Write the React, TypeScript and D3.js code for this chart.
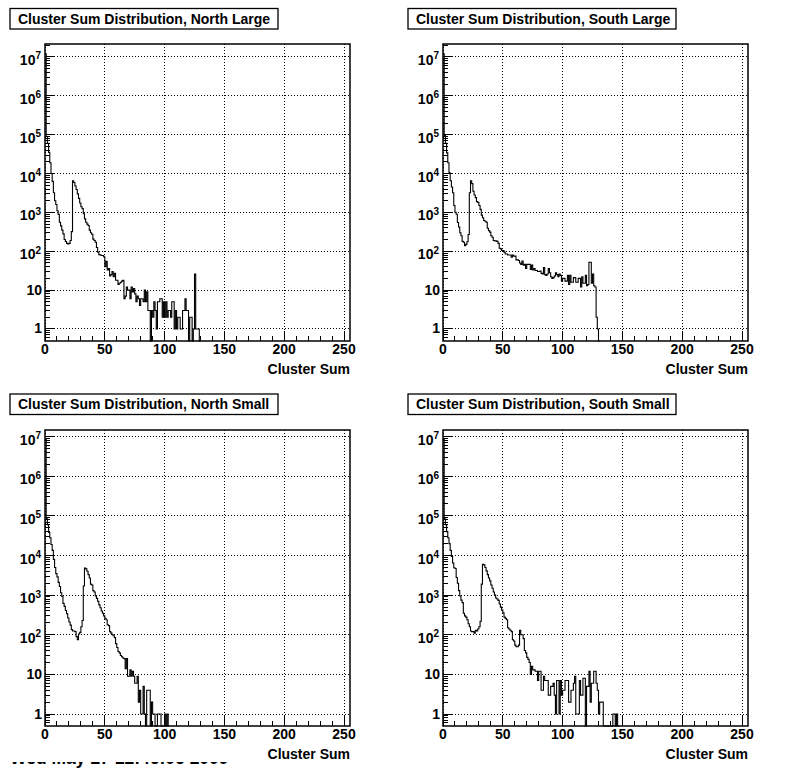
import * as d3 from "d3";

const northLarge = [12000000,90000,60000,35000,19000,10000,6300,3200,2000,1600,1100,890,560,450,350,280,200,178,160,155,160,190,320,6500,5900,4800,3900,3000,2300,1750,1400,1250,920,680,560,500,460,350,300,275,205,190,170,125,95,82,80,78,78,72,40,55,33,36,23,25,30,22,27,18,18,14,15,16,17,18,6,7,12,10,10,6,12,9,11,8,5,7,6,4,6,6,5,10,5,9,3,3,0,3,2,5,3,1,5,5,6,6,2,5,2,5,2,3,3,2,5,5,1,3,1,2,2,1,1,3,3,6,3,3,0,2,2,0,1,26,1,1,1,0];
const southLarge = [12000000,95000,60000,34000,19000,10500,6500,4500,3200,1500,1000,900,550,420,300,250,180,170,140,150,175,270,3200,6500,5500,3500,2800,2400,1900,1800,1500,1200,850,730,620,590,560,390,340,310,250,230,190,185,185,180,160,120,115,105,105,95,85,85,80,80,80,70,80,75,75,60,60,58,50,46,56,44,46,36,46,46,46,34,44,33,36,32,32,30,30,31,27,26,38,25,24,26,36,28,22,20,21,23,28,25,22,26,24,17,20,20,17,17,24,14,24,16,16,21,21,16,16,20,20,12,22,15,15,24,13,14,52,52,15,26,13,12,2,1,0];
const northSmall = [9000000,85000,60000,38000,28000,19000,13500,8000,5000,3500,2900,2100,1650,1150,930,620,520,410,340,265,210,175,135,125,125,120,90,75,105,115,160,230,1700,4800,4600,4000,3300,2700,1900,1800,1300,1200,950,830,700,570,480,400,350,300,260,240,180,170,120,110,100,95,85,60,48,38,35,30,28,26,25,14,25,9,9,13,9,12,9,6,6,9,2,4,1,1,5,1,0,4,4,4,0,2,1,1,0,0,1,1,1,0,0,0,1,0,1,0];
const southSmall = [9000000,85000,60000,40000,28000,20000,13500,9500,6500,4900,4700,2800,2000,1300,950,750,650,350,300,280,240,190,160,125,120,120,110,130,125,140,160,220,1900,6000,5800,5000,4100,3300,2700,2300,1800,1500,1200,1000,850,800,740,600,500,420,360,280,260,240,150,140,130,120,75,70,55,50,50,55,130,100,100,80,40,35,27,24,20,10,16,13,13,12,12,7,12,12,4,4,9,7,7,7,3,3,5,5,6,3,1,7,7,1,7,3,4,4,7,7,7,2,2,4,4,6,9,1,1,1,7,3,3,8,8,0,5,5,12,2,6,6,12,12,6,4,1,2,2,2,0,0,0,0,0,0,0,0,1,1,0,1,0];

const xTickLabels = [0, 50, 100, 150, 200, 250];
const xMinorTicks = [10, 20, 30, 40, 60, 70, 80, 90, 110, 120, 130, 140, 160, 170, 180, 190, 210, 220, 230, 240];
const decades = [0, 1, 2, 3, 4, 5, 6, 7];
const minorSteps = [2, 3, 4, 5, 6, 7, 8, 9];
const font = "'Liberation Sans', Arial, sans-serif";

interface PanelProps {
  title: string;
  counts: number[];
  left: number;
  top: number;
  bottom: number;
  boxTop: number;
  yDomain: [number, number];
}

function Panel({ title, counts, left, top, bottom, boxTop, yDomain }: PanelProps) {
  const width = 305;
  const x = d3.scaleLinear().domain([0, 255]).range([left, left + width]);
  const y = d3.scaleLog().domain(yDomain).range([bottom, top]);
  const floor = yDomain[0];

  const points: [number, number][] = counts.map((c, i) => [i, Math.max(c, floor)]);
  points.push([counts.length, floor]);
  const line = d3
    .line<[number, number]>()
    .x((d) => x(d[0]))
    .y((d) => y(d[1]))
    .curve(d3.curveStepAfter);

  const minorY = decades
    .flatMap((d) => minorSteps.map((m) => m * 10 ** d))
    .filter((v) => v < yDomain[1]);
  minorY.unshift(0.6, 0.7, 0.8, 0.9);

  return (
    <g>
      <rect x={left - 35} y={boxTop} width={268} height={20.5} fill="#fff" stroke="#000" strokeWidth={1.3} />
      <text x={left - 27} y={boxTop + 15} fontSize={14} fontWeight="bold" fontFamily={font}>
        {title}
      </text>

      <g shapeRendering="crispEdges">
        {xTickLabels.map((t) => (
          <line key={t} x1={x(t)} x2={x(t)} y1={top} y2={bottom} stroke="#000" strokeDasharray="1,2" />
        ))}
        {decades.map((d) => (
          <line
            key={d}
            x1={left}
            x2={left + width}
            y1={y(10 ** d)}
            y2={y(10 ** d)}
            stroke="#000"
            strokeDasharray="1,2"
          />
        ))}

        {xTickLabels.map((t) => (
          <line key={t} x1={x(t)} x2={x(t)} y1={bottom} y2={bottom - 10} stroke="#000" />
        ))}
        {xMinorTicks.map((t) => (
          <line key={t} x1={x(t)} x2={x(t)} y1={bottom} y2={bottom - 5} stroke="#000" />
        ))}
        {decades.map((d) => (
          <line key={d} x1={left} x2={left + 9} y1={y(10 ** d)} y2={y(10 ** d)} stroke="#000" />
        ))}
        {minorY.map((v) => (
          <line key={v} x1={left} x2={left + 4.5} y1={y(v)} y2={y(v)} stroke="#000" />
        ))}
      </g>

      <path d={line(points) ?? ""} fill="none" stroke="#000" strokeWidth={1.1} />
      <rect x={left} y={top} width={width} height={bottom - top} fill="none" stroke="#000" strokeWidth={1.5} />

      {xTickLabels.map((t) => (
        <text
          key={t}
          x={x(t)}
          y={bottom + 13}
          textAnchor="middle"
          fontSize={14}
          fontWeight="bold"
          fontFamily={font}
        >
          {t}
        </text>
      ))}
      {decades.map((d) =>
        d < 2 ? (
          <text
            key={d}
            x={left - 3}
            y={y(10 ** d) + 4.5}
            textAnchor="end"
            fontSize={14}
            fontWeight="bold"
            fontFamily={font}
          >
            {10 ** d}
          </text>
        ) : (
          <text
            key={d}
            x={left - 4}
            y={y(10 ** d) + 8}
            textAnchor="end"
            fontSize={14}
            fontWeight="bold"
            fontFamily={font}
          >
            10
            <tspan fontSize={10} dy={-5.5}>
              {d}
            </tspan>
          </text>
        )
      )}
      <text
        x={left + width}
        y={bottom + 33}
        textAnchor="end"
        fontSize={14}
        fontWeight="bold"
        fontFamily={font}
      >
        Cluster Sum
      </text>
    </g>
  );
}

export default function App() {
  return (
    <svg
      width={796}
      height={772}
      style={{ position: "absolute", left: 0, top: 0, background: "#fff" }}
    >
      <defs>
        <clipPath id="stamp">
          <rect x={0} y={762} width={300} height={10} />
        </clipPath>
      </defs>
      <Panel title="Cluster Sum Distribution, North Large" counts={northLarge} left={45} top={44} bottom={341} boxTop={8.5} yDomain={[0.49, 2.16e7]} />
      <Panel title="Cluster Sum Distribution, South Large" counts={southLarge} left={443} top={44} bottom={341} boxTop={8.5} yDomain={[0.49, 2.16e7]} />
      <Panel title="Cluster Sum Distribution, North Small" counts={northSmall} left={45} top={430} bottom={726} boxTop={394} yDomain={[0.5, 1.47e7]} />
      <Panel title="Cluster Sum Distribution, South Small" counts={southSmall} left={443} top={430} bottom={726} boxTop={394} yDomain={[0.5, 1.47e7]} />
      <text
        x={10}
        y={764}
        fontSize={17.5}
        fontWeight="bold"
        fontFamily={font}
        clipPath="url(#stamp)"
      >
        Wed May 27 12:46:06 2009
      </text>
    </svg>
  );
}
